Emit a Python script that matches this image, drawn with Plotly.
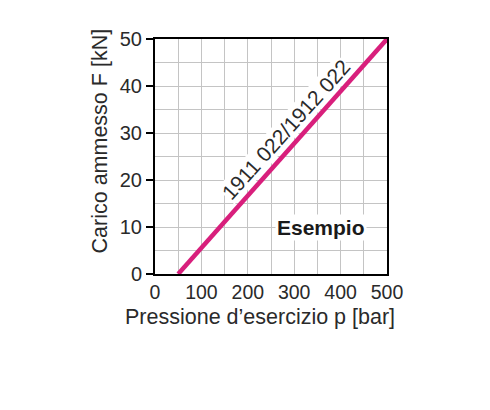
import plotly.graph_objects as go

pressure = [50, 500]
load = [0, 50]
x_ticks = [0, 100, 200, 300, 400, 500]
y_ticks = [0, 10, 20, 30, 40, 50]
line_label = "1911 022/1912 022"
example_label = "Esempio"
x_title = "Pressione d’esercizio p [bar]"
y_title = "Carico ammesso F [kN]"

font_family = "Liberation Sans, Arial, sans-serif"
text_color = "#2a2a2a"

fig = go.Figure()
fig.add_trace(go.Scatter(x=pressure, y=load, mode="lines",
                         line=dict(color="#d81f7c", width=4.5), showlegend=False,
                         cliponaxis=False))

fig.add_annotation(x=282, y=30.8, text=line_label, showarrow=False, textangle=-48,
                   font=dict(family=font_family, size=21, color=text_color),
                   bgcolor="white", borderpad=0)
fig.add_annotation(x=358, y=10, text="<b>" + example_label + "</b>", showarrow=False,
                   font=dict(family=font_family, size=21, color="#1a1a1a"),
                   bgcolor="white", borderpad=1)

# axis titles as annotations (aligned like the reference)
fig.add_annotation(xref="paper", yref="paper", x=1.045, y=-0.182, xanchor="right",
                   yanchor="middle", text=x_title, showarrow=False,
                   font=dict(family=font_family, size=21.5, color=text_color))
fig.add_annotation(xref="paper", yref="paper", x=-0.235, y=0.566, xanchor="center",
                   yanchor="middle", text=y_title, showarrow=False, textangle=-90,
                   font=dict(family=font_family, size=21.5, color=text_color))

fig.update_layout(
    width=490, height=410,
    margin=dict(l=147, r=111, t=31, b=144),
    paper_bgcolor="white", plot_bgcolor="white",
    font=dict(family=font_family, size=20, color=text_color),
)
fig.update_xaxes(range=[0, 500], tickvals=x_ticks,
                 showgrid=True, gridcolor="#c4c4c4", gridwidth=1,
                 minor=dict(dtick=50, showgrid=True, gridcolor="#c4c4c4"),
                 showline=True, linecolor="black", linewidth=2, mirror=True,
                 ticks="", zeroline=False,
                 tickfont=dict(size=19.5, color=text_color))
fig.update_yaxes(range=[0, 50], tickvals=y_ticks,
                 showgrid=True, gridcolor="#c4c4c4", gridwidth=1,
                 minor=dict(dtick=5, showgrid=True, gridcolor="#c4c4c4"),
                 showline=True, linecolor="black", linewidth=2, mirror=True,
                 ticks="outside", ticklen=7, tickwidth=1.5, tickcolor="black",
                 zeroline=False,
                 tickfont=dict(size=20, color=text_color))

fig.write_html("out.html")
